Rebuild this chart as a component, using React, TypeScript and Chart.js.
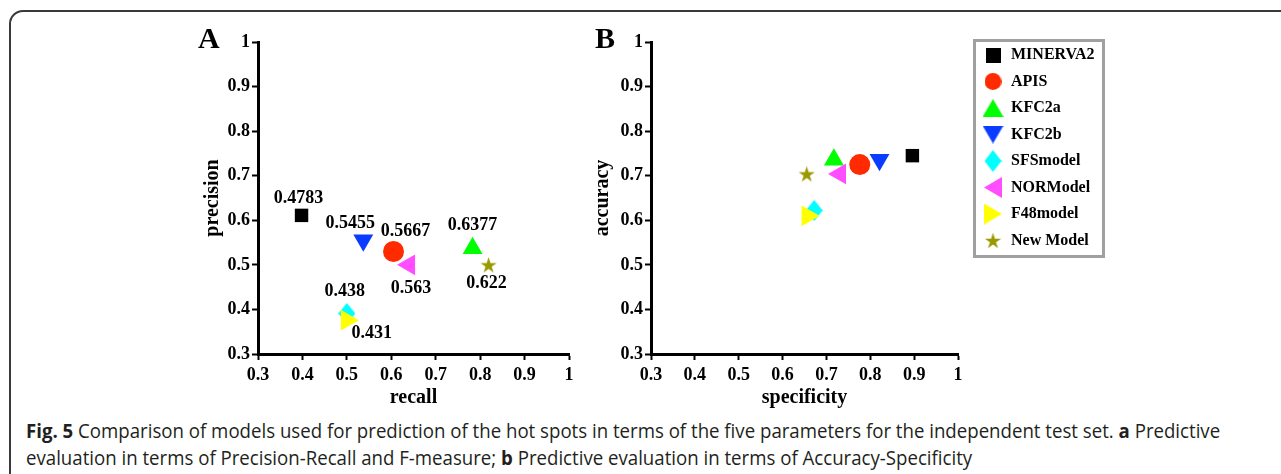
import React, { useEffect, useRef } from 'react';
import { Chart, registerables } from 'chart.js';

Chart.register(...registerables);

// ---------- data ----------
const models = ['MINERVA2', 'APIS', 'KFC2a', 'KFC2b', 'SFSmodel', 'NORModel', 'F48model', 'New Model'];
const colors = ['#000000', '#ff2a00', '#00ff00', '#0a3cff', '#00ffff', '#ff4dff', '#ffff00', '#999900'];

// Panel A: recall (x) vs precision (y), labelled with F-measure
const recall = [0.398, 0.605, 0.783, 0.537, 0.5, 0.64, 0.5, 0.819];
const precision = [0.611, 0.53, 0.537, 0.555, 0.391, 0.5, 0.376, 0.5];
const fMeasure = ['0.4783', '0.5667', '0.6377', '0.5455', '0.438', '0.563', '0.431', '0.622'];

// Panel B: specificity (x) vs accuracy (y)
const specificity = [0.896, 0.776, 0.717, 0.821, 0.672, 0.731, 0.657, 0.655];
const accuracy = [0.745, 0.725, 0.736, 0.736, 0.622, 0.704, 0.61, 0.704];

const tickValues = [0.3, 0.4, 0.5, 0.6, 0.7, 0.8, 0.9, 1];
const tickLabels = ['0.3', '0.4', '0.5', '0.6', '0.7', '0.8', '0.9', '1'];

// ---------- styles ----------
const SERIF = "'Liberation Serif', 'Times New Roman', serif";
const markerShapes = ['square', 'circle', 'up', 'down', 'diamond', 'left', 'right', 'star'];
const plotStyles = ['rect', 'circle', 'triangle', 'triangle', 'diamond', 'triangle', 'triangle', 'star'];
const plotRotations = [0, 0, 0, 180, 0, 270, 90, 0];
const plotRadii = [9.5, 10.5, 11.5, 11.5, 10, 12, 12, 9];
const legendSizes: [number, number][] = [[15, 15], [17, 17], [21, 18], [21, 18], [17, 22], [18, 21], [18, 21], [17, 17]];
// label offsets (px) of the F-measure text relative to each marker
const labelOffsets: [number, number][] = [[-3, -17], [12, -20], [0, -23], [-13, -17], [-2, -22], [2, 23], [25, 13], [-2, 18]];

function makeMarker(shape: string, color: string, w: number, h: number) {
  const c = document.createElement('canvas');
  c.width = w;
  c.height = h;
  const ctx = c.getContext('2d')!;
  ctx.fillStyle = color;
  ctx.beginPath();
  switch (shape) {
    case 'square': ctx.rect(0, 0, w, h); break;
    case 'circle': ctx.ellipse(w / 2, h / 2, w / 2, h / 2, 0, 0, Math.PI * 2); break;
    case 'up': ctx.moveTo(w / 2, 0); ctx.lineTo(w, h); ctx.lineTo(0, h); break;
    case 'down': ctx.moveTo(0, 0); ctx.lineTo(w, 0); ctx.lineTo(w / 2, h); break;
    case 'left': ctx.moveTo(0, h / 2); ctx.lineTo(w, 0); ctx.lineTo(w, h); break;
    case 'right': ctx.moveTo(w, h / 2); ctx.lineTo(0, 0); ctx.lineTo(0, h); break;
    case 'diamond': ctx.moveTo(w / 2, 0); ctx.lineTo(w, h / 2); ctx.lineTo(w / 2, h); ctx.lineTo(0, h / 2); break;
    case 'star': {
      const R = w / 2;
      const r = R * 0.382;
      const cx = w / 2;
      const cy = R + (h - 1.809 * R) / 2;
      for (let k = 0; k < 10; k++) {
        const a = -Math.PI / 2 + (k * Math.PI) / 5;
        const rr = k % 2 ? r : R;
        const px = cx + Math.cos(a) * rr;
        const py = cy + Math.sin(a) * rr;
        if (k === 0) ctx.moveTo(px, py); else ctx.lineTo(px, py);
      }
      break;
    }
  }
  ctx.closePath();
  ctx.fill();
  return c;
}

function buildDatasets(xs: number[], ys: number[]) {
  const diamond = makeMarker('diamond', colors[4], 17, 21);
  const star = makeMarker('star', colors[7], 17, 17);
  return models.map((m, i) => ({
    label: m,
    data: [{ x: xs[i], y: ys[i] }],
    pointStyle: plotStyles[i] === 'diamond' ? diamond : plotStyles[i] === 'star' ? star : plotStyles[i],
    pointRotation: plotRotations[i],
    pointRadius: plotRadii[i],
    pointHoverRadius: plotRadii[i],
    backgroundColor: colors[i],
    borderColor: colors[i],
    pointBorderWidth: 0,
    borderWidth: 0,
    order: -i,
  }));
}

function axis(title: string, horizontal: boolean, size: number) {
  return {
    type: 'linear' as const,
    min: 0.3,
    max: 1,
    afterBuildTicks: (s: any) => { s.ticks = tickValues.map((v) => ({ value: v })); },
    afterFit: (s: any) => { if (horizontal) s.height = size; else s.width = size; },
    ticks: {
      callback: (_v: any, i: number) => tickLabels[i],
      font: { family: SERIF, size: 18, weight: 'bold' as const },
      color: '#000',
      padding: horizontal ? 5 : 2,
      maxRotation: 0,
      autoSkip: false,
    },
    grid: { display: true, drawOnChartArea: false, drawTicks: true, tickLength: 6, tickWidth: 2, tickColor: '#000' },
    border: { display: true, color: '#000', width: 3 },
    title: {
      display: true,
      text: title,
      color: '#000',
      font: { family: SERIF, size: 20, weight: 'bold' as const },
      padding: horizontal ? { top: 0, bottom: 0 } : { top: 31, bottom: 0 },
    },
  };
}

const labelPlugin = {
  id: 'fLabels',
  afterDatasetsDraw(chart: any) {
    const ctx = chart.ctx;
    ctx.save();
    ctx.font = `bold 18px ${SERIF}`;
    ctx.fillStyle = '#000';
    ctx.textAlign = 'center';
    ctx.textBaseline = 'middle';
    fMeasure.forEach((t, i) => {
      const p = chart.getDatasetMeta(i).data[0];
      if (!p) return;
      ctx.fillText(t, p.x + labelOffsets[i][0], p.y + labelOffsets[i][1]);
    });
    ctx.restore();
  },
};

const legendBorder = {
  id: 'legendBorder',
  afterDraw(chart: any) {
    const L = chart.legend;
    const ctx = chart.ctx;
    ctx.save();
    ctx.strokeStyle = '#a0a0a0';
    ctx.lineWidth = 3;
    ctx.strokeRect(L.left + 2, L.top + 4, 129, 216);
    ctx.restore();
  },
};

function scatterOptions(xTitle: string, yTitle: string, yWidth: number, padRight: number) {
  return {
    responsive: false,
    animation: false as const,
    layout: { padding: { top: 42, right: padRight, bottom: 0, left: 0 } },
    scales: { x: axis(xTitle, true, 56), y: axis(yTitle, false, yWidth) },
    plugins: { legend: { display: false }, tooltip: { enabled: false } },
  };
}

export default function App() {
  const aRef = useRef<HTMLCanvasElement>(null);
  const bRef = useRef<HTMLCanvasElement>(null);
  const lRef = useRef<HTMLCanvasElement>(null);
  const cap1 = useRef<HTMLDivElement>(null);
  const cap2 = useRef<HTMLDivElement>(null);

  useEffect(() => {
    const chartA = new Chart(aRef.current!, {
      type: 'scatter',
      data: { datasets: buildDatasets(recall, precision) as any },
      options: scatterOptions('recall', 'precision', 88, 21) as any,
      plugins: [labelPlugin],
    });
    const chartB = new Chart(bRef.current!, {
      type: 'scatter',
      data: { datasets: buildDatasets(specificity, accuracy) as any },
      options: scatterOptions('specificity', 'accuracy', 91, 9) as any,
    });
    const legendImgs = models.map((_, i) => makeMarker(markerShapes[i], colors[i], legendSizes[i][0], legendSizes[i][1]));
    const chartL = new Chart(lRef.current!, {
      type: 'scatter',
      data: { datasets: models.map((m, i) => ({ label: m, data: [], backgroundColor: colors[i] })) },
      options: {
        responsive: false,
        animation: false,
        layout: { padding: { left: 12.5, top: 36.5, right: 0, bottom: 0 } },
        scales: { x: { display: false }, y: { display: false } },
        plugins: {
          tooltip: { enabled: false },
          legend: {
            position: 'left',
            align: 'start',
            labels: {
              usePointStyle: true,
              pointStyleWidth: 20,
              boxHeight: 16,
              padding: 10.5,
              color: '#000',
              font: { family: SERIF, size: 16, weight: 'bold' },
              generateLabels: () =>
                models.map((m, i) => ({
                  text: m,
                  fillStyle: colors[i],
                  strokeStyle: colors[i],
                  lineWidth: 0,
                  pointStyle: legendImgs[i],
                  rotation: 0,
                  hidden: false,
                  datasetIndex: i,
                })),
            },
          },
        },
      } as any,
      plugins: [legendBorder],
    });

    const fit = () => {
      if (!cap1.current || !cap2.current) return;
      cap1.current.style.transform = 'none';
      cap2.current.style.transform = 'none';
      const w = cap1.current.offsetWidth;
      const k = w > 0 ? 1194 / w : 1;
      cap1.current.style.transform = `scaleX(${k})`;
      cap2.current.style.transform = `scaleX(${k})`;
    };
    fit();
    if ((document as any).fonts && (document as any).fonts.ready) (document as any).fonts.ready.then(fit);

    return () => {
      chartA.destroy();
      chartB.destroy();
      chartL.destroy();
    };
  }, []);

  const abs = (l: number, t: number, w: number, h: number): React.CSSProperties => ({ position: 'absolute', left: l, top: t, width: w, height: h });
  const letter: React.CSSProperties = { position: 'absolute', top: 23, fontFamily: SERIF, fontWeight: 'bold', fontSize: 30, lineHeight: '30px', color: '#000' };
  const capStyle: React.CSSProperties = {
    position: 'absolute', left: 26, fontFamily: "'Open Sans', sans-serif", fontSize: 19.5, lineHeight: '27px',
    whiteSpace: 'nowrap', color: '#231f20', transformOrigin: 'left top', display: 'inline-block',
  };

  return (
    <div style={{ position: 'fixed', left: 0, top: 0, width: 1281, height: 474, overflow: 'hidden', background: '#fff' }}>
      <div style={{ position: 'absolute', left: 9, top: 10, width: 1330, height: 520, border: '2px solid #3a3a3a', borderRadius: 14, boxSizing: 'border-box' }} />
      <canvas ref={aRef} width={420} height={410} style={abs(170, 0, 420, 410)} />
      <canvas ref={bRef} width={410} height={410} style={abs(560, 0, 410, 410)} />
      <canvas ref={lRef} width={300} height={300} style={abs(960, 0, 300, 300)} />
      <div style={{ ...letter, left: 198 }}>A</div>
      <div style={{ ...letter, left: 595 }}>B</div>
      <div ref={cap1} style={{ ...capStyle, top: 417 }}>
        <b>Fig. 5</b> Comparison of models used for prediction of the hot spots in terms of the five parameters for the independent test set. <b>a</b> Predictive
      </div>
      <div ref={cap2} style={{ ...capStyle, top: 444 }}>
        evaluation in terms of Precision-Recall and F-measure; <b>b</b> Predictive evaluation in terms of Accuracy-Specificity
      </div>
    </div>
  );
}
